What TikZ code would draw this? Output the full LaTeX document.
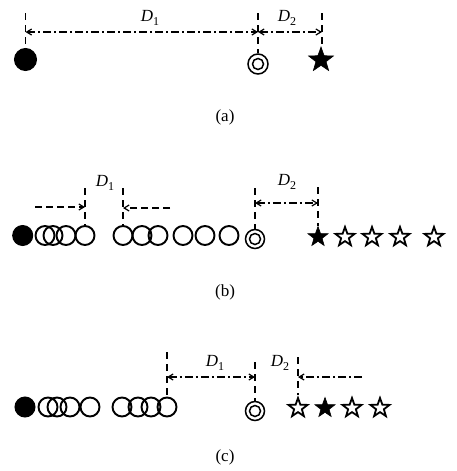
\documentclass[tikz,border=0pt]{standalone}
\usepackage{fontspec}
\setmainfont{Liberation Serif}
\usetikzlibrary{shapes.geometric,arrows.meta}
\tikzset{
  fcirc/.style={circle,fill=black,draw=black,line width=1pt,minimum size=20pt,inner sep=0pt},
  ocirc/.style={circle,draw=black,line width=1.9pt,minimum size=19pt,inner sep=0pt},
  dcout/.style={circle,draw=black,line width=1.5pt,minimum size=19pt,inner sep=0pt},
  dcin/.style={circle,draw=black,line width=1.5pt,minimum size=11pt,inner sep=0pt},
  fstar/.style={star,star points=5,star point ratio=2.45,fill=black,draw=black,line width=0.6pt,minimum size=#1,inner sep=0pt},
  fstar/.default=21pt,
  ostar/.style={star,star points=5,star point ratio=2.45,draw=black,line width=1.8pt,minimum size=20pt,inner sep=0pt},
  vdash/.style={line width=1.8pt,dash pattern=on 7pt off 5pt},
  ddarrow/.style={line width=1.8pt,dash pattern=on 7pt off 4pt},
  dcarrow/.style={line width=1.8pt,dash pattern=on 8pt off 3pt on 2pt off 3pt},
  tip/.style={arrows={-{Straight Barb[length=5pt,width=6pt,line width=1.2pt]}}},
  tips/.style={arrows={{Straight Barb[length=5pt,width=6pt,line width=1.2pt]}-{Straight Barb[length=5pt,width=6pt,line width=1.2pt]}}},
  lbl/.style={font=\fontsize{17}{19}\selectfont,inner sep=0pt},
  captxt/.style={font=\fontsize{17}{19}\selectfont,inner sep=0pt}
}
\newcommand{\Dl}[1]{\textit{D}\raisebox{-4pt}{\fontsize{12}{13}\selectfont #1}}
\begin{document}
\begin{tikzpicture}[x=1pt,y=-1pt]
\useasboundingbox[fill=white] (0,0) rectangle (456,471);
% ---------- (a)
\node[fcirc,minimum size=22pt] (fa) at (25.5,59.5) {};
\node[dcout,minimum size=20pt] (dca) at (258,64) {};
\node[dcin] (dcai) at (dca) {};
\node[fstar=26pt] (sa) at (321,60) {};
\coordinate (ta1) at (25.5,13);
\coordinate (ta2) at (258,13);
\coordinate (ta3) at (322,13);
\coordinate (sa3) at (322,45);
\draw[vdash] (ta1) -- (fa.north);
\draw[vdash] (ta2) -- (dca.north);
\draw[vdash] (ta3) -- (sa3);
\coordinate (aa1) at (25.5,32);
\coordinate (aa2) at (258,32);
\coordinate (aa3) at (322,32);
\draw[dcarrow,tips] (aa1) -- (aa2);
\draw[dcarrow,tips] (aa2) -- (aa3);
\node[lbl] (la1) at (150,18) {\Dl{1}};
\node[lbl] (la2) at (287,18) {\Dl{2}};
\node[captxt] (ca) at (225,117) {(a)};
% ---------- (b)
\node[fcirc] (fb) at (22.7,235.5) {};
\foreach \x [count=\i] in {45,53,66,85,123,142,158,183,205,229}
  \node[ocirc] (b\i) at (\x,235.5) {};
\node[dcout] (dcb) at (255,239) {};
\node[dcin] (dcbi) at (dcb) {};
\node[fstar] (sb1) at (318,237) {};
\foreach \x [count=\i from 2] in {345,372,400,434}
  \node[ostar] (sb\i) at (\x,237) {};
\coordinate (tb1) at (85,188);
\coordinate (tb2) at (123,188);
\coordinate (tb3) at (255,188);
\coordinate (tb4) at (318,187);
\draw[vdash] (tb1) -- (b4.north);
\draw[vdash] (tb2) -- (b5.north);
\draw[vdash] (tb3) -- (dcb.north);
\draw[vdash] (tb4) -- (sb1.north);
\coordinate (lb0) at (35,207);
\coordinate (lb1) at (85,207);
\coordinate (rb0) at (170,208);
\coordinate (rb1) at (123,208);
\draw[ddarrow,tip] (lb0) -- (lb1);
\draw[ddarrow,tip] (rb0) -- (rb1);
\coordinate (db1) at (255,203);
\coordinate (db2) at (318,203);
\draw[dcarrow,tips] (db1) -- (db2);
\node[lbl] (lb1t) at (105,183) {\Dl{1}};
\node[lbl] (lb2t) at (287,182) {\Dl{2}};
\node[captxt] (cb) at (225,292) {(b)};
% ---------- (c)
\node[fcirc] (fc) at (25,407) {};
\foreach \x [count=\i] in {48,57,70,90,122,138,151,167}
  \node[ocirc] (c\i) at (\x,407) {};
\node[dcout] (dcc) at (255,411) {};
\node[dcin] (dcci) at (dcc) {};
\node[ostar] (sc1) at (298,408) {};
\node[fstar] (sc2) at (325,408) {};
\node[ostar] (sc3) at (352,408) {};
\node[ostar] (sc4) at (380,408) {};
\coordinate (tc1) at (167,352);
\coordinate (tc2) at (255,362);
\coordinate (tc3) at (298,357);
\draw[vdash] (tc1) -- (c8.north);
\draw[vdash] (tc2) -- (dcc.north);
\draw[vdash] (tc3) -- (sc1.north);
\coordinate (ac1) at (167,377);
\coordinate (ac2) at (255,377);
\coordinate (ac3) at (298,377);
\coordinate (ac4) at (362,377);
\draw[dcarrow,tips] (ac1) -- (ac2);
\draw[dcarrow,tip] (ac4) -- (ac3);
\node[lbl] (lc1) at (215,363) {\Dl{1}};
\node[lbl] (lc2) at (280,363) {\Dl{2}};
\node[captxt] (cc) at (225,457) {(c)};
\end{tikzpicture}
\end{document}
